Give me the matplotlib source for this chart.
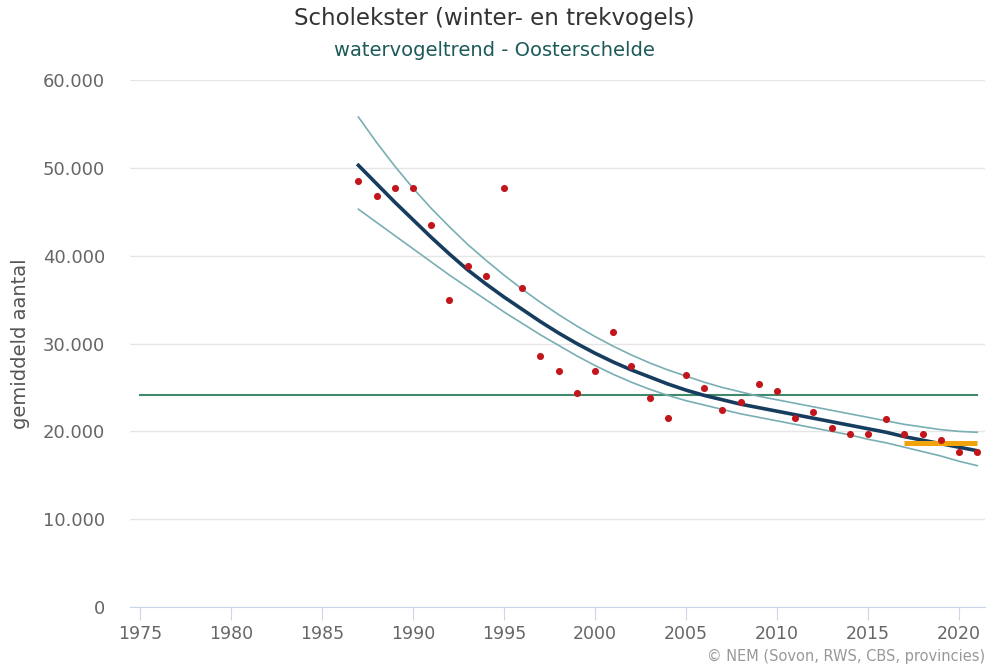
import matplotlib
matplotlib.use("Agg")
import matplotlib.pyplot as plt
from matplotlib.ticker import FuncFormatter

years = list(range(1987, 2022))
counts = [48.5, 46.8, 47.7, 47.7, 43.5, 35.0, 38.8, 37.7, 47.7, 36.3,
          28.6, 26.9, 24.4, 26.9, 31.3, 27.4, 23.8, 21.5, 26.4, 24.9,
          22.4, 23.3, 25.4, 24.6, 21.5, 22.2, 20.4, 19.7, 19.7, 21.4,
          19.7, 19.7, 19.0, 17.6, 17.6]
trend = [50.3, 48.2, 46.1, 44.1, 42.1, 40.2, 38.4, 36.8, 35.3, 33.9,
         32.5, 31.2, 30.0, 28.9, 27.9, 27.0, 26.2, 25.4, 24.7, 24.1,
         23.6, 23.1, 22.7, 22.3, 21.9, 21.5, 21.1, 20.7, 20.3, 19.9,
         19.4, 19.0, 18.6, 18.2, 17.8]
upper = [55.8, 52.9, 50.2, 47.7, 45.4, 43.3, 41.3, 39.5, 37.8, 36.2,
         34.7, 33.3, 32.0, 30.8, 29.7, 28.7, 27.8, 27.0, 26.3, 25.6,
         25.0, 24.5, 24.0, 23.6, 23.2, 22.8, 22.4, 22.0, 21.6, 21.2,
         20.8, 20.5, 20.2, 20.0, 19.9]
lower = [45.3, 43.8, 42.3, 40.8, 39.3, 37.8, 36.4, 35.0, 33.6, 32.3,
         31.0, 29.8, 28.6, 27.5, 26.5, 25.6, 24.8, 24.1, 23.5, 23.0,
         22.5, 22.0, 21.6, 21.2, 20.8, 20.4, 20.0, 19.6, 19.1, 18.7,
         18.2, 17.7, 17.2, 16.6, 16.1]
reference_years = [1975, 2021]
reference_value = 24.1
recent_years = [2017, 2021]
recent_value = 18.7

x_ticks = [1975, 1980, 1985, 1990, 1995, 2000, 2005, 2010, 2015, 2020]
y_ticks = [0, 10000, 20000, 30000, 40000, 50000, 60000]

k = 1000
fig = plt.figure(figsize=(9.88, 6.68), dpi=100)
ax = fig.add_axes([0.1316, 0.0913, 0.8654, 0.7887])

ax.plot(years, [v * k for v in upper], color="#79aeb3", lw=1.2, zorder=3)
ax.plot(years, [v * k for v in lower], color="#79aeb3", lw=1.2, zorder=3)
ax.plot(reference_years, [reference_value * k] * 2, color="#3f8a6b", lw=1.5, zorder=2)
ax.plot(years, [v * k for v in trend], color="#173d5e", lw=2.6, zorder=4)
ax.plot(recent_years, [recent_value * k] * 2, color="#f0a30a", lw=3.6, zorder=5,
        solid_capstyle="butt")
ax.scatter(years, [v * k for v in counts], s=26, color="#c3161c", zorder=6,
           linewidths=0)

ax.set_xlim(1974.45, 2021.43)
ax.set_ylim(0, 60000)
ax.set_xticks(x_ticks)
ax.set_yticks(y_ticks)
ax.yaxis.set_major_formatter(FuncFormatter(
    lambda v, p: "0" if v == 0 else f"{int(v):,}".replace(",", ".")))

ax.grid(axis="y", color="#e6e6e6", lw=1)
ax.set_axisbelow(True)
for s in ["top", "right", "left"]:
    ax.spines[s].set_visible(False)
ax.spines["bottom"].set_color("#ccd6eb")
ax.tick_params(axis="y", length=0, pad=18, labelsize=13, labelcolor="#666666")
ax.tick_params(axis="x", length=9, color="#ccd6eb", pad=4, labelsize=12.5,
               labelcolor="#666666")

ax.set_ylabel("gemiddeld aantal", fontsize=14, color="#555555")
ax.yaxis.set_label_coords(-0.117, 0.5)

fig.text(0.5, 0.972, "Scholekster (winter- en trekvogels)", ha="center",
         va="center", fontsize=16.5, color="#333333")
fig.text(0.5, 0.925, "watervogeltrend - Oosterschelde", ha="center",
         va="center", fontsize=14, color="#1d5a5a")
fig.text(0.997, 0.017, "© NEM (Sovon, RWS, CBS, provincies)", ha="right",
         va="center", fontsize=10.5, color="#999999")

fig.savefig("out.png", dpi=100)
